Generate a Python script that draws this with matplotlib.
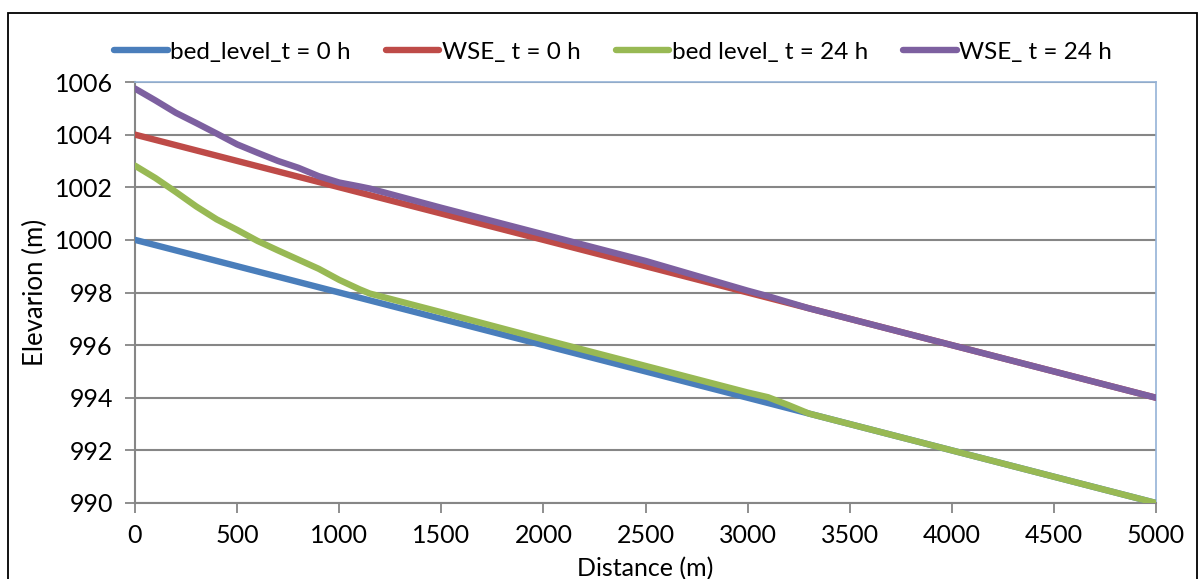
import matplotlib
matplotlib.use("Agg")
import matplotlib.pyplot as plt
from matplotlib.patches import Rectangle

# Distance along the reach (m)
dist_lin = [0, 500, 1000, 1500, 2000, 2500, 3000, 3500, 4000, 4500, 5000]
bed_t0 = [1000.0, 999.0, 998.0, 997.0, 996.0, 995.0, 994.0, 993.0, 992.0, 991.0, 990.0]
wse_t0 = [1004.0, 1003.0, 1002.0, 1001.0, 1000.0, 999.0, 998.0, 997.0, 996.0, 995.0, 994.0]

dist_t24 = [0, 100, 200, 300, 400, 500, 600, 700, 800, 900, 1000, 1100, 1150,
            1500, 2000, 2500, 3000, 3100, 3200, 3300, 3500, 4000, 4500, 5000]
bed_t24 = [1002.82, 1002.35, 1001.82, 1001.27, 1000.78, 1000.38, 999.96, 999.60,
           999.25, 998.90, 998.48, 998.12, 997.96,
           997.25, 996.22, 995.21, 994.20, 994.02, 993.72, 993.40,
           993.0, 992.0, 991.0, 990.0]
wse_t24 = [1005.75, 1005.30, 1004.83, 1004.44, 1004.04, 1003.63, 1003.31, 1003.00,
           1002.74, 1002.42, 1002.18, 1002.03, 1001.95,
           1001.22, 1000.21, 999.20, 998.07, 997.86, 997.63, 997.40,
           997.0, 996.0, 995.0, 994.0]

labels = ["bed_level_t = 0 h", "WSE_ t = 0 h", "bed level_ t = 24 h", "WSE_ t = 24 h"]
colors = ["#4A7EBB", "#BE4B48", "#98B954", "#7D60A0"]

x_ticks = list(range(0, 5001, 500))
y_ticks = list(range(990, 1007, 2))

plt.rcParams["font.family"] = ["Lato", "DejaVu Sans"]
fig = plt.figure(figsize=(12, 5.79), dpi=100)
ax = fig.add_axes([135 / 1200, 1 - 503 / 579, (1156 - 135) / 1200, (503 - 82) / 579])

lw = 4.6
series = [(dist_lin, bed_t0), (dist_lin, wse_t0), (dist_t24, bed_t24), (dist_t24, wse_t24)]
for (xs, ys), lab, col in zip(series, labels, colors):
    ax.plot(xs, ys, color=col, lw=lw, label=lab, solid_capstyle="round",
            solid_joinstyle="round", zorder=3)

ax.set_xlim(0, 5000)
ax.set_ylim(990, 1006)
ax.set_xticks(x_ticks)
ax.set_yticks(y_ticks)
ax.grid(axis="y", color="#868686", lw=1.5, zorder=1)
ax.tick_params(axis="both", which="major", direction="out", length=7, width=1.3,
               color="#868686", labelsize=18, labelcolor="black")
ax.tick_params(axis="x", pad=8)
ax.tick_params(axis="y", pad=9)

for side in ("left", "bottom"):
    ax.spines[side].set_color("#868686")
    ax.spines[side].set_linewidth(1.5)
for side in ("top", "right"):
    ax.spines[side].set_color("#95B3D7")
    ax.spines[side].set_linewidth(1.2)

ax.set_ylabel("Elevarion (m)", fontsize=18.5, labelpad=5)
ax.set_xlabel("Distance (m)", fontsize=18, labelpad=7)

leg = fig.legend(loc="center", bbox_to_anchor=(613 / 1200, 1 - 52 / 579), ncol=4,
                 frameon=False, fontsize=17.5, handlelength=2.2, handletextpad=0.1,
                 columnspacing=1.45, borderpad=0)
for h in leg.get_lines():
    h.set_linewidth(4.6)
    h.set_solid_capstyle("round")

# chart border
fig.patches.append(Rectangle((8 / 1200, -0.1), (1197 - 8) / 1200, 1.1 - 13 / 579,
                             transform=fig.transFigure, fill=False,
                             edgecolor="black", lw=1.3))

fig.savefig("out.png", dpi=100)
